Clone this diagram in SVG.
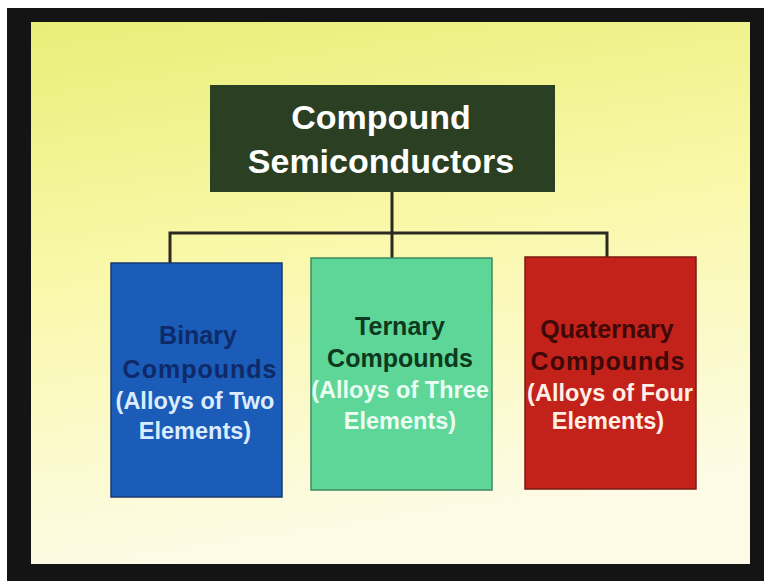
<svg xmlns="http://www.w3.org/2000/svg" width="764" height="581" viewBox="0 0 764 581">
<style>
.t{font-family:"Liberation Sans",Arial,sans-serif;font-weight:bold;text-anchor:middle}
.title{font-size:34px;fill:#ffffff}
.dk{font-size:25px}
.lt{font-size:23.5px}
.conn{stroke:#2a2a22;stroke-width:3;fill:none}
</style>
<defs>
<linearGradient id="bg" x1="0" y1="0" x2="0.2" y2="1">
<stop offset="0" stop-color="#e8ee78"/>
<stop offset="0.45" stop-color="#f9f8a8"/>
<stop offset="1" stop-color="#fdfbe6"/>
</linearGradient>
</defs>
<rect x="0" y="0" width="764" height="581" fill="#ffffff"/>
<rect x="7" y="8" width="757" height="573" fill="#141414"/>
<rect x="31" y="22" width="719" height="542" fill="url(#bg)"/>
<g id="connectors">
<path class="conn" d="M392 192 V258"/>
<path class="conn" d="M170 264 V233 H607 V258"/>
</g>
<g id="root">
<rect x="210" y="85" width="345" height="107" fill="#2b3f22"/>
<text class="t title" x="381" y="129">Compound</text>
<text class="t title" x="381" y="173">Semiconductors</text>
</g>
<g id="binary">
<rect x="111" y="263" width="171" height="234" fill="#1a5cb8" stroke="#1a3a70" stroke-width="1.5"/>
<text class="t dk" x="198" y="344" fill="#0f2a68">Binary</text>
<text class="t dk" x="200" y="378" fill="#0f2a68" letter-spacing="1">Compounds</text>
<text class="t lt" x="195" y="409" fill="#dcecff">(Alloys of Two</text>
<text class="t lt" x="195" y="439" fill="#dcecff">Elements)</text>
</g>
<g id="ternary">
<rect x="311" y="258" width="181" height="232" fill="#5ed698" stroke="#3f8a60" stroke-width="1.5"/>
<text class="t dk" x="400" y="335" fill="#0d3a1e">Ternary</text>
<text class="t dk" x="400" y="367" fill="#0d3a1e">Compounds</text>
<text class="t lt" x="400" y="398" fill="#eafff2">(Alloys of Three</text>
<text class="t lt" x="400" y="429" fill="#eafff2">Elements)</text>
</g>
<g id="quaternary">
<rect x="525" y="257" width="171" height="232" fill="#c2221a" stroke="#7a1a12" stroke-width="1.5"/>
<text class="t dk" x="607" y="338" fill="#3e0906">Quaternary</text>
<text class="t dk" x="608" y="370" fill="#3e0906" letter-spacing="1">Compounds</text>
<text class="t lt" x="610" y="401" fill="#fff0e6">(Alloys of Four</text>
<text class="t lt" x="608" y="429" fill="#fff0e6">Elements)</text>
</g>
</svg>
